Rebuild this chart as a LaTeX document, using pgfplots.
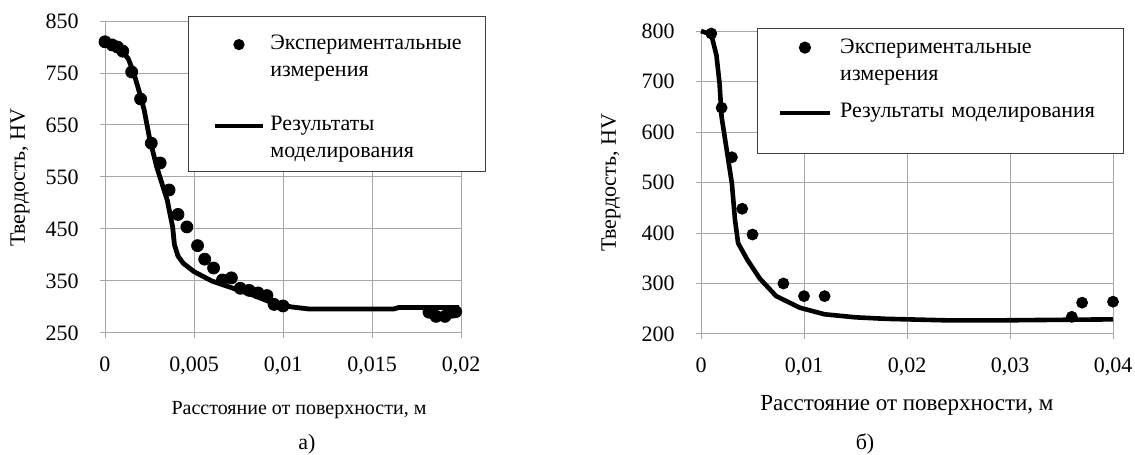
\documentclass[border=0pt]{standalone}
\usepackage{fontspec}
\setmainfont{Liberation Serif}
\usepackage{pgfplots}
\pgfplotsset{compat=1.18}

% 1 px of the reference = 0.5pt
\pgfplotsset{
  excel/.style={
    scale only axis,
    anchor=south west,
    clip=false,
    scaled x ticks=false, scaled y ticks=false,
    grid=major,
    major grid style={draw=black!35, line width=0.5pt},
    axis line style={draw=black!35, line width=0.5pt},
    tick style={draw=black!35, line width=0.5pt},
    tick align=outside,
    major tick length=2.5pt,
    xtick pos=left, ytick pos=left,
    ticklabel style={font=\fontsize{11}{13}\selectfont, inner sep=0pt},
    xticklabel style={anchor=north, yshift=-9.25pt},
    yticklabel style={anchor=east, xshift=-10.5pt},
  },
  exp/.style={only marks, mark=*, mark options={fill=black, draw=black}},
  mod/.style={black, line width=2.4pt, line join=round, mark=none},
}

\begin{document}
\begin{tikzpicture}
\path[use as bounding box] (0,0) rectangle (567.5pt,227.5pt);

% ---- а) ----
\begin{axis}[excel,
  at={(52.5pt,61pt)}, width=178pt, height=156pt,
  xmin=0, xmax=0.02, ymin=250, ymax=850,
  xtick={0,0.005,0.01,0.015,0.02},
  xticklabels={0,{0,005},{0,01},{0,015},{0,02}},
  ytick={250,350,450,550,650,750,850},
  yticklabels={250,350,450,550,650,750,850},
  legend style={at={(axis description cs:0.2331,1.016)}, anchor=north west,
    draw=black!75, line width=0.6pt, fill=white,
    inner xsep=0pt, inner ysep=9pt, row sep=21.75pt, column sep=2.5pt,
    font=\fontsize{11}{13.25}\selectfont,
    cells={anchor=base west},
    nodes={inner sep=0pt, text width=107.5pt, align=left,
           text height=7.5pt, text depth=11.25pt}},
]
\addplot[exp, mark size=3pt,
  legend image code/.code={\path (-12pt,0) (24pt,0);\fill (12pt,2.5pt) circle (2.5pt);}]
coordinates {
(0,810) (0.0004,804) (0.0007,800) (0.001,792) (0.0015,752) (0.002,700)
(0.0026,615) (0.0031,577) (0.0036,525) (0.0041,478) (0.0046,454) (0.0052,418)
(0.0056,392) (0.0061,375) (0.0066,352) (0.0071,356) (0.0076,336) (0.0081,332)
(0.0086,327) (0.0091,322) (0.0095,305) (0.0100,302)
(0.0182,290) (0.0186,282) (0.0191,282) (0.0195,290) (0.0197,291)
};
\addlegendentry{Экспериментальные\\измерения}
\addplot[mod,
  legend image code/.code={\path (-12pt,0) (24pt,0);\draw[line width=2pt] (0pt,2.5pt) -- (24pt,2.5pt);}]
coordinates {
(0,808) (0.0005,800) (0.001,790) (0.0013,778) (0.0016,752) (0.002,705)
(0.0022,679) (0.0025,625) (0.0029,570) (0.0035,505) (0.0038,454) (0.0039,420)
(0.0041,398) (0.0044,384) (0.005,368) (0.006,350) (0.0072,336) (0.0083,323)
(0.0094,308) (0.0105,300) (0.0115,296) (0.0162,296) (0.0165,299) (0.0199,299)
};
\addlegendentry{Результаты\\моделирования}
\end{axis}

% ---- б) ----
\begin{axis}[excel,
  at={(350.5pt,60.5pt)}, width=206pt, height=151.5pt,
  xmin=0, xmax=0.04, ymin=200, ymax=800,
  xtick={0,0.01,0.02,0.03,0.04},
  xticklabels={0,{0,01},{0,02},{0,03},{0,04}},
  ytick={200,300,400,500,600,700,800},
  yticklabels={200,300,400,500,600,700,800},
  legend style={at={(axis description cs:0.136,1.0099)}, anchor=north west,
    draw=black!75, line width=0.6pt, fill=white,
    inner xsep=0pt, inner ysep=5pt, row sep=11.5pt, column sep=4pt,
    font=\fontsize{11}{13.5}\selectfont,
    cells={anchor=base west},
    nodes={inner sep=0pt, text width=141.5pt, align=left,
           text height=7.5pt, text depth=13pt}},
]
\addplot[exp, mark size=2.75pt,
  legend image code/.code={\path (-10pt,0) (25pt,0);\fill (12.5pt,3pt) circle (2.75pt);}]
coordinates {
(0.001,795) (0.002,648) (0.003,550) (0.004,448) (0.005,397) (0.008,300)
(0.01,275) (0.012,275) (0.036,234) (0.037,262) (0.04,264)
};
\addlegendentry{Экспериментальные\\измерения}
\addplot[mod, line width=2.3pt,
  legend image code/.code={\path (-10pt,0) (25pt,0);\draw[line width=2pt] (0pt,2.5pt) -- (25pt,2.5pt);}]
coordinates {
(0,800) (0.001,793) (0.0015,752) (0.0018,696) (0.002,630) (0.0025,564)
(0.003,498) (0.0033,426) (0.0036,380) (0.0045,347) (0.0057,310) (0.0073,275)
(0.0096,252) (0.012,239) (0.015,233) (0.018,230) (0.024,227) (0.029,227) (0.04,229)
};
\addlegendentry{Результаты моделирования}
\end{axis}

% axis titles and panel letters
\node[rotate=90, font=\fontsize{11}{13}\selectfont] at (10pt,138.5pt) {Твердость, HV};
\node[rotate=90, font=\fontsize{11}{13}\selectfont] at (305.5pt,136pt) {Твердость, HV};
\node[font=\fontsize{10}{12}\selectfont] at (149.5pt,22.5pt) {Расстояние от поверхности, м};
\node[font=\fontsize{11.5}{13}\selectfont] at (453.5pt,25pt) {Расстояние от поверхности, м};
\node[font=\fontsize{11}{13}\selectfont] at (153.5pt,5.5pt) {а)};
\node[font=\fontsize{11}{13}\selectfont] at (432.5pt,5.5pt) {б)};
\end{tikzpicture}
\end{document}
